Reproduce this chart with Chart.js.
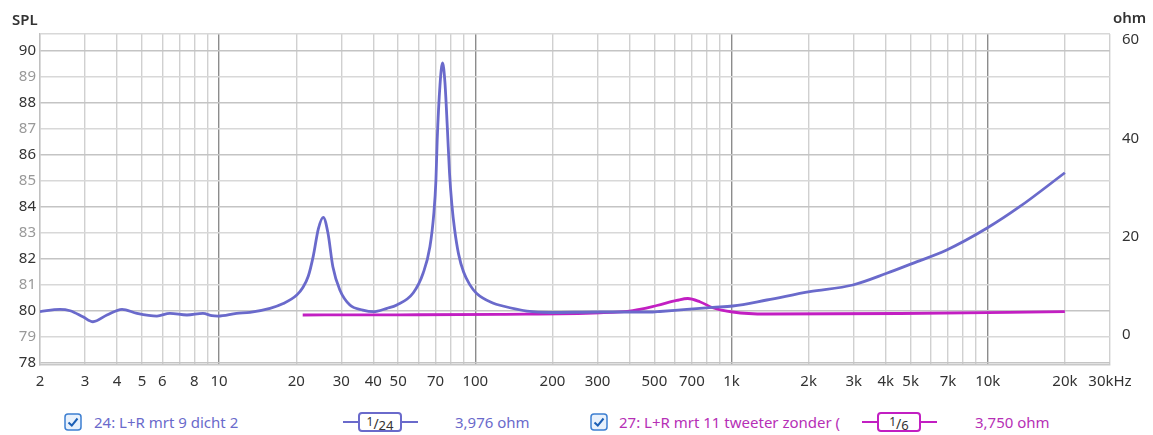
<!DOCTYPE html>
<html>
<head>
<meta charset="utf-8">
<script src="https://cdn.jsdelivr.net/npm/chart.js@4.4.1/dist/chart.umd.min.js"></script>
<style>
body { margin: 0; background: #fff; font-family: "Noto Sans", sans-serif; }
#wrap { position: relative; width: 1153px; height: 435px; overflow: hidden; }
#chart { position: absolute; left: 0; top: 0; }
.axisTitle { position: absolute; font-size: 15px; color: #333; font-weight: 600; line-height: 1; }
.item { position: absolute; top: 411px; height: 22px; font-size: 15px; line-height: 22px; white-space: nowrap; }
.box { position: absolute; top: 412px; height: 20px; }
.box .dash { position: absolute; top: 9px; height: 2px; width: 16px; }
.box .frame { position: absolute; top: 0; height: 16px; border: 2px solid; border-radius: 4px; font-size: 14px; line-height: 16px; text-align: center; color: #333; }
.box sub { font-size: 13px; vertical-align: -1px; }
.box sup { font-size: 12px; vertical-align: 3px; }
</style>
</head>
<body>
<div id="wrap">
	<canvas id="chart" width="1153" height="400"></canvas>
	<div class="axisTitle" style="left:12px; top:12px;">SPL</div>
	<div class="axisTitle" style="left:1113px; top:10px;">ohm</div>

	<svg style="position:absolute; left:64px; top:413px;" width="18" height="18">
		<rect x="1" y="1" width="16" height="16" rx="3" fill="#e8f1fc" stroke="#3d7fd1" stroke-width="1.5"/>
		<path d="M4.5 9.5 L7.8 12.6 L13.5 5.5" fill="none" stroke="#1c5fb5" stroke-width="2"/>
	</svg>
	<div class="item" style="left:94px; color:#6a6acb;">24: L+R mrt 9 dicht 2</div>
	<div class="box" style="left:343px;">
		<div class="dash" style="left:0; background:#6a6acb;"></div>
		<div class="frame" style="left:15px; width:40px; border-color:#6a6acb;"><sup>1</sup>/<sub>24</sub></div>
		<div class="dash" style="left:59px; background:#6a6acb;"></div>
	</div>
	<div class="item" style="left:455px; color:#6a6acb;">3,976 ohm</div>

	<svg style="position:absolute; left:590px; top:413px;" width="18" height="18">
		<rect x="1" y="1" width="16" height="16" rx="3" fill="#e8f1fc" stroke="#3d7fd1" stroke-width="1.5"/>
		<path d="M4.5 9.5 L7.8 12.6 L13.5 5.5" fill="none" stroke="#1c5fb5" stroke-width="2"/>
	</svg>
	<div class="item" style="left:619px; width:243px; overflow:hidden; color:#b62fb6;">27: L+R mrt 11 tweeter zonder (</div>
	<div class="box" style="left:862px;">
		<div class="dash" style="left:0; background:#c21fc2;"></div>
		<div class="frame" style="left:15px; width:40px; border-color:#c21fc2;"><sup>1</sup>/<sub>6</sub></div>
		<div class="dash" style="left:59px; background:#c21fc2;"></div>
	</div>
	<div class="item" style="left:975px; color:#b62fb6;">3,750 ohm</div>
</div>
<script>
// impedance curve 24 (ohm)
const blueFreq = [2, 2.39, 2.62, 2.94, 3.22, 3.65, 4.18, 4.78, 5.72, 6.43,
	7.49, 8.65, 9.38, 9.9, 11.7, 13.2, 15.8, 17.8, 20.1, 21.2,
	22.3, 23.3, 24.4, 25.5, 26.6, 27.8, 29.6, 32.4, 36.4, 40,
	45.2, 49.4, 57.2, 62.6, 66.5, 68.9, 70.2, 71, 72.8, 74.5,
	76.1, 77.8, 79.3, 81, 83, 86, 90, 95, 101, 117,
	128, 159, 195, 306, 493, 525, 669, 845, 1011, 1373,
	2020, 2972, 4034, 5095, 6916, 9908, 13320, 20000];
const blueOhm = [4.74, 5.23, 4.94, 3.72, 2.70, 4.07, 5.23, 4.41, 3.86, 4.41,
	4.07, 4.41, 3.93, 3.86, 4.41, 4.62, 5.43, 6.4, 8.13, 9.6,
	12.0, 16.0, 21.6, 23.94, 20.74, 13.89, 9.15, 6.10, 5.08, 4.74,
	5.43, 6.10, 8.54, 12.61, 17.96, 24.81, 31.52, 39.66, 50.84, 55.32,
	51.45, 42.0, 33.0, 26.5, 21.5, 16.5, 12.8, 10.3, 8.5, 6.5,
	5.9, 4.88, 4.58, 4.68, 4.68, 4.78, 5.23, 5.63, 5.90, 7.12,
	8.81, 10.17, 12.55, 14.58, 17.29, 21.70, 26.09, 33.0];

// impedance curve 27 (ohm)
const magFreq = [21.2, 50.8, 125, 306, 412, 511, 611, 675, 752, 845, 1011, 1373, 4533, 20000];
const magOhm = [4.07, 4.11, 4.21, 4.51, 4.98, 6.0, 7.02, 7.42, 6.77, 5.55, 4.68, 4.27, 4.37, 4.74];

// axis ticks
const freqTicks = [2, 3, 4, 5, 6, 7, 8, 9,
	10, 20, 30, 40, 50, 60, 70, 80, 90,
	100, 200, 300, 400, 500, 600, 700, 800, 900,
	1000, 2000, 3000, 4000, 5000, 6000, 7000, 8000, 9000,
	10000, 20000, 30000];
const freqLabels = [2, 3, 4, 5, 6, 8, 10, 20, 30, 40, 50, 70, 100, 200, 300, 500, 700,
	1000, 2000, 3000, 4000, 5000, 7000, 10000, 20000, 30000];
const splTicks = [78, 78.5, 79, 79.5, 80, 80.5, 81, 81.5, 82, 82.5, 83, 83.5, 84, 84.5,
	85, 85.5, 86, 86.5, 87, 87.5, 88, 88.5, 89, 89.5, 90, 90.5];
const ohmTicks = [0, 20, 40, 60];

const BLUE = "#6a6acb";
const MAGENTA = "#c21fc2";
const tickFont = { family: "Noto Sans", size: 15 };

function freqText(f) {
	if (f === 30000) return "30kHz";
	if (f >= 1000) return (f / 1000) + "k";
	return String(f);
}

function toPoints(xs, ys) {
	return xs.map((x, i) => ({ x: x, y: ys[i] }));
}

new Chart(document.getElementById("chart"), {
	type: "line",
	data: {
		datasets: [
			{
				label: "24: L+R mrt 9 dicht 2",
				data: toPoints(blueFreq, blueOhm),
				yAxisID: "yOhm",
				borderColor: BLUE,
				borderWidth: 2.8,
				pointRadius: 0,
				cubicInterpolationMode: "monotone",
				fill: false
			},
			{
				label: "27: L+R mrt 11 tweeter zonder",
				data: toPoints(magFreq, magOhm),
				yAxisID: "yOhm",
				borderColor: MAGENTA,
				borderWidth: 2.8,
				pointRadius: 0,
				cubicInterpolationMode: "monotone",
				fill: false
			}
		]
	},
	options: {
		responsive: false,
		animation: false,
		layout: { padding: { top: 34, left: 0, right: 0, bottom: 0 } },
		plugins: { legend: { display: false }, tooltip: { enabled: false } },
		scales: {
			x: {
				type: "logarithmic",
				position: "bottom",
				min: 2,
				max: 30000,
				afterBuildTicks: (a) => { a.ticks = freqTicks.map((v) => ({ value: v })); },
				afterFit: (a) => { a.height = 35; },
				ticks: {
					autoSkip: false,
					maxRotation: 0,
					padding: 8,
					font: tickFont,
					color: "#333",
					callback: (v) => (freqLabels.includes(v) ? freqText(v) : "")
				},
				grid: {
					drawTicks: false,
					lineWidth: 1.4,
					color: (ctx) => {
						const v = ctx.tick ? ctx.tick.value : 0;
						return [10, 100, 1000, 10000].includes(v) ? "#8c8c8c" : "#d0d0d0";
					}
				},
				border: { display: true, color: "#c8c8c8", width: 1.4 }
			},
			ySpl: {
				type: "linear",
				position: "left",
				min: 77.923,
				max: 90.654,
				afterBuildTicks: (a) => {
					a.ticks = splTicks.map((v) => ({ value: v }));
					a.ticks.push({ value: a.max });
				},
				afterFit: (a) => { a.width = 40; },
				ticks: {
					padding: 4,
					font: tickFont,
					color: (ctx) => (ctx.tick.value % 2 === 0 ? "#333" : "#999"),
					callback: (v) => (Number.isInteger(v) ? String(v) : "")
				},
				grid: {
					drawTicks: false,
					lineWidth: 1.4,
					color: (ctx) => (ctx.tick && ctx.tick.value % 2 === 0 ? "#c4c4c4" : "#d8d8d8")
				},
				border: { display: true, color: "#c0c0c0", width: 1.4 }
			},
			yOhm: {
				type: "linear",
				position: "right",
				min: -6.1,
				max: 61.22,
				afterBuildTicks: (a) => { a.ticks = ohmTicks.map((v) => ({ value: v })); },
				afterFit: (a) => { a.width = 43; },
				ticks: {
					padding: 4,
					font: tickFont,
					color: "#333"
				},
				grid: { display: false },
				border: { display: false }
			}
		}
	}
});
</script>
</body>
</html>
